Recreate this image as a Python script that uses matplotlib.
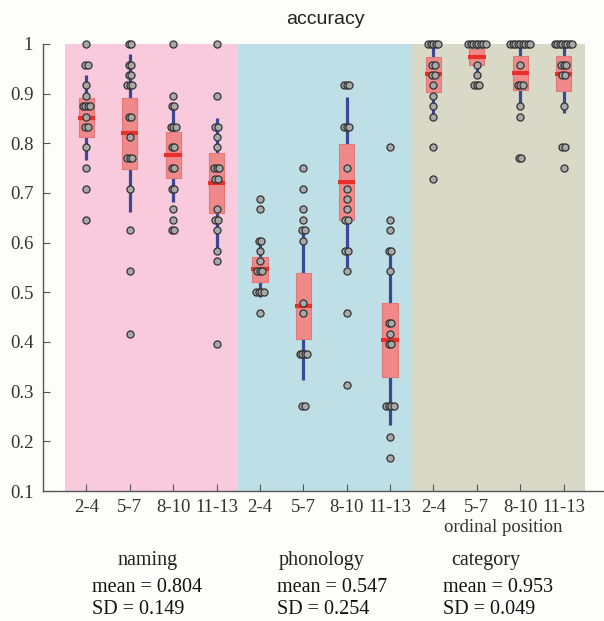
import numpy as np
import matplotlib
matplotlib.use("Agg")
import matplotlib.pyplot as plt

# ----------------------------
# Data
# ----------------------------
groups = ["2-4", "5-7", "8-10", "11-13"] * 3
tasks = ["naming", "phonology", "category"]
task_mean_txt = ["mean = 0.804", "mean = 0.547", "mean = 0.953"]
task_sd_txt = ["SD = 0.149", "SD = 0.254", "SD = 0.049"]

# individual accuracies per ordinal-position bin
naming_24 = [1.0, 0.958, 0.958, 0.917, 0.896, 0.875, 0.875, 0.875, 0.875,
             0.854, 0.833, 0.833, 0.792, 0.75, 0.708, 0.646]
naming_57 = [1.0, 1.0, 0.958, 0.958, 0.938, 0.938, 0.917, 0.917, 0.917,
             0.854, 0.854, 0.813, 0.771, 0.771, 0.771, 0.708, 0.625, 0.542, 0.417]
naming_810 = [1.0, 0.896, 0.875, 0.875, 0.833, 0.833, 0.833, 0.792, 0.792,
              0.75, 0.75, 0.708, 0.708, 0.667, 0.646, 0.625, 0.625]
naming_1113 = [1.0, 0.896, 0.833, 0.833, 0.813, 0.792, 0.75, 0.75, 0.75,
               0.729, 0.729, 0.667, 0.646, 0.646, 0.625, 0.583, 0.563, 0.396]
phon_24 = [0.688, 0.667, 0.604, 0.604, 0.583, 0.563, 0.542, 0.542, 0.542,
           0.5, 0.5, 0.5, 0.5, 0.458]
phon_57 = [0.75, 0.708, 0.667, 0.646, 0.625, 0.625, 0.604, 0.479, 0.458,
           0.375, 0.375, 0.375, 0.375, 0.271, 0.271]
phon_810 = [0.917, 0.917, 0.917, 0.833, 0.833, 0.833, 0.75, 0.708, 0.688,
            0.667, 0.646, 0.646, 0.583, 0.583, 0.542, 0.458, 0.313]
phon_1113 = [0.792, 0.646, 0.625, 0.583, 0.583, 0.542, 0.438, 0.438, 0.417,
             0.396, 0.396, 0.271, 0.271, 0.271, 0.271, 0.208, 0.167]
cat_24 = [1.0, 1.0, 1.0, 1.0, 1.0, 0.958, 0.958, 0.938, 0.938, 0.917,
          0.896, 0.875, 0.854, 0.792, 0.729]
cat_57 = [1.0, 1.0, 1.0, 1.0, 1.0, 1.0, 1.0, 1.0, 0.958, 0.938,
          0.917, 0.917, 0.917]
cat_810 = [1.0, 1.0, 1.0, 1.0, 1.0, 1.0, 1.0, 1.0, 1.0, 0.958,
           0.917, 0.917, 0.917, 0.875, 0.854, 0.771, 0.771]
cat_1113 = [1.0, 1.0, 1.0, 1.0, 1.0, 1.0, 1.0, 1.0, 0.958, 0.958, 0.958,
            0.938, 0.938, 0.875, 0.792, 0.792, 0.75]

all_points = [naming_24, naming_57, naming_810, naming_1113,
              phon_24, phon_57, phon_810, phon_1113,
              cat_24, cat_57, cat_810, cat_1113]

# summary stats per bin (mean, SD -> blue line, 95% CI -> red box)
means = [0.852, 0.820, 0.777, 0.720, 0.546, 0.472, 0.722, 0.404, 0.939, 0.973, 0.941, 0.940]
sds = [0.085, 0.159, 0.095, 0.130, 0.056, 0.149, 0.171, 0.171, 0.079, 0.039, 0.066, 0.079]
cis = [0.039, 0.072, 0.046, 0.060, 0.026, 0.066, 0.076, 0.075, 0.035, 0.016, 0.034, 0.035]

# ----------------------------
# Style
# ----------------------------
W, H = 604, 621
BG = "#fdfdf9"
PANEL_COLORS = ["#f9c9dc", "#bedfe5", "#d9d9c7"]
BOX_FC = "#f08a8a"
BOX_EC = "#e07a7a"
MEAN_C = "#e8302a"
SD_C = "#3c4796"
SERIF = ["Liberation Serif", "DejaVu Serif"]

fig = plt.figure(figsize=(W / 100, H / 100), dpi=100, facecolor=BG)
ax = fig.add_axes([43 / W, 1 - 491 / H, 564 / W, 447 / H])
ax.set_facecolor(BG)

x = np.arange(1, 13)

# background panels
for i, c in enumerate(PANEL_COLORS):
    ax.axvspan(0.5 + 4 * i, 4.5 + 4 * i, color=c, lw=0, zorder=0)

for xi, m, s, ci, pts in zip(x, means, sds, cis, all_points):
    # SD line
    ax.plot([xi, xi], [m - s, m + s], color=SD_C, lw=2.3, zorder=2,
            solid_capstyle="butt")
    # CI box
    ax.add_patch(plt.Rectangle((xi - 0.175, m - ci), 0.35, 2 * ci,
                               facecolor=BOX_FC, edgecolor=BOX_EC, lw=0.8, zorder=3))
    # mean
    ax.plot([xi - 0.2, xi + 0.2], [m, m], color=MEAN_C, lw=3, zorder=4,
            solid_capstyle="butt")
    # individual points, ties spread sideways
    vals, counts = np.unique(np.round(pts, 3), return_counts=True)
    px, py = [], []
    for v, c in zip(vals, counts):
        off = (np.arange(c) - (c - 1) / 2) * 0.058
        px.extend(xi + off)
        py.extend([v] * c)
    ax.scatter(px, py, s=26, facecolor="#a8a8a8", edgecolor="#333333",
               linewidth=0.9, zorder=5, clip_on=False)

ax.set_xlim(0, 13)
ax.set_ylim(0.1, 1.0)
ax.set_xticks(x)
ax.set_xticklabels(groups, fontfamily=SERIF, fontsize=13.5)
yt = np.round(np.arange(0.1, 1.01, 0.1), 1)
ax.set_yticks(yt)
ax.set_yticklabels(["1" if v == 1 else f"{v:.1f}" for v in yt],
                   fontfamily=SERIF, fontsize=13.5)
ax.tick_params(axis="both", direction="in", length=5, width=0.8,
               color="#555555", labelcolor="#333333")
ax.tick_params(axis="y", pad=7)
ax.tick_params(axis="x", pad=6)
for sp in ["top", "right"]:
    ax.spines[sp].set_visible(False)
for sp in ["left", "bottom"]:
    ax.spines[sp].set_color("#555555")
    ax.spines[sp].set_linewidth(1.0)

# labels / annotations
fig.text(325 / W, 1 - 20 / H, "accuracy", ha="center", va="center",
         fontfamily=["Liberation Sans", "DejaVu Sans"], fontsize=14, color="#222222")
fig.text(503 / W, 1 - 528 / H, "ordinal position", ha="center", va="center",
         fontfamily=SERIF, fontsize=13.5, color="#333333")

task_x = [148, 322, 486]
stat_x = [92, 277, 443]
for tx, sx, name, mt, st in zip(task_x, stat_x, tasks, task_mean_txt, task_sd_txt):
    fig.text(tx / W, 1 - 561 / H, name, ha="center", va="center",
             fontfamily=SERIF, fontsize=14.5, color="#222222")
    fig.text(sx / W, 1 - 587 / H, mt, ha="left", va="center",
             fontfamily=SERIF, fontsize=14.5, color="#111111")
    fig.text(sx / W, 1 - 610 / H, st, ha="left", va="center",
             fontfamily=SERIF, fontsize=14.5, color="#111111")

fig.savefig("out.png", dpi=100, facecolor=BG)
